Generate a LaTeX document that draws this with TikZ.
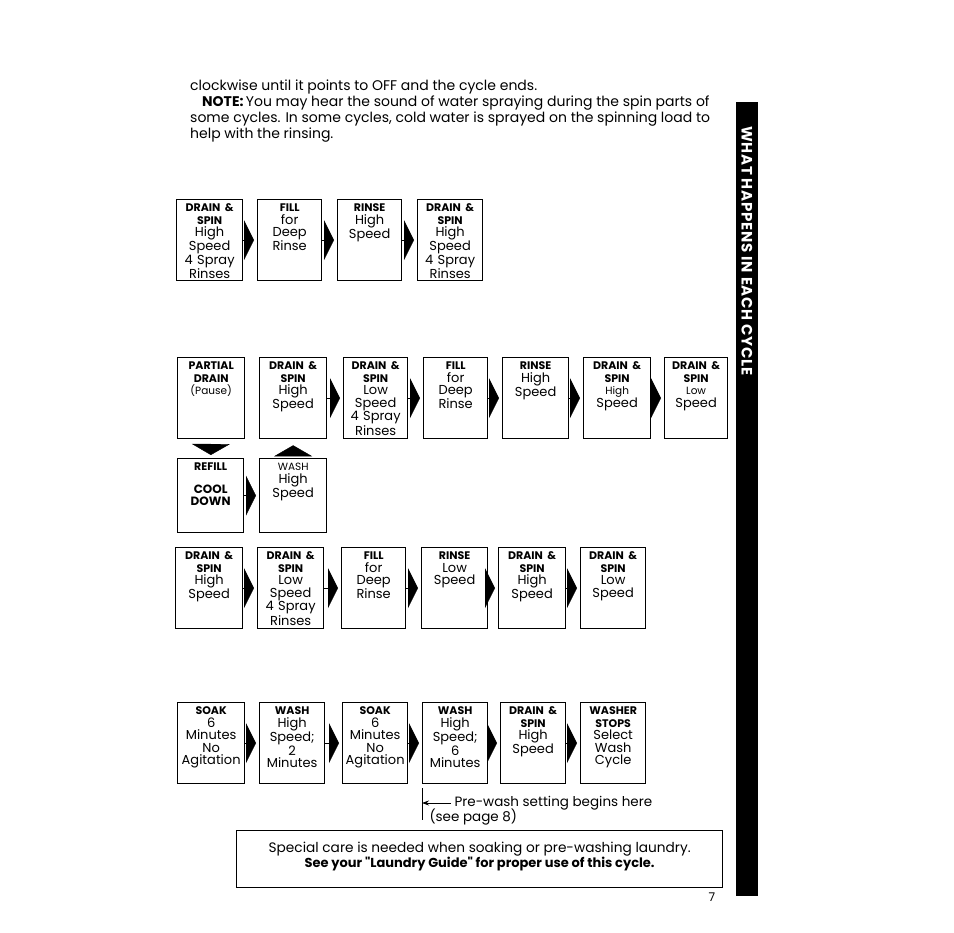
\documentclass[tikz,border=0pt]{standalone}
\usepackage{fontspec}
\setmainfont{Poppins}
\usetikzlibrary{arrows.meta}

\newcommand\hd[1]{{\fontsize{11}{12.5}\selectfont\bfseries #1}}
\newcommand\sm[1]{{\fontsize{10.5}{12.5}\selectfont #1}}

\tikzset{
	stepbox/.style={draw, line width=1.3pt, inner sep=0pt, anchor=north west, align=center, text width=#1pt, text height=12pt, text depth=69pt, font=\fontsize{13}{12.5}\selectfont},
	flow/.style={-{Triangle[length=10pt,width=40pt]}, shorten >=3pt, line width=0.4pt},
	vflow/.style={-{Triangle[length=11pt,width=38pt]}, line width=0.4pt}
}

\begin{document}
\begin{tikzpicture}[x=1pt, y=-1pt, every path/.style={>=latex}]
			\useasboundingbox (0,0) rectangle (954,933);

			\node[anchor=north west, align=left, inner sep=0pt, font=\fontsize{14}{16}\selectfont] (note) at (190,80) {clockwise until it points to OFF and the cycle ends.\\\hspace{12pt}\textbf{NOTE:}\,You may hear the sound of water spraying during the spin parts of\\some cycles. In some cycles, cold water is sprayed on the spinning load to\\help with the rinsing.};

			\fill (736,102) rectangle (758,896);
			\node[rotate=-90, text=white, font=\fontsize{15}{15}\selectfont\bfseries\addfontfeature{LetterSpace=5}] (title) at (747,251) {WHAT HAPPENS IN EACH CYCLE};

			\node[stepbox=66] (drainA) at (176,199) {\hd{DRAIN \&}\\\hd{SPIN}\\High\\Speed\\4 Spray\\Rinses};
			\node[stepbox=64] (fillA) at (257,199) {\hd{FILL}\\for\\Deep\\Rinse};
			\node[stepbox=64] (rinseA) at (337,199) {\hd{RINSE}\\High\\Speed};
			\node[stepbox=65] (drainB) at (417,199) {\hd{DRAIN \&}\\\hd{SPIN}\\High\\Speed\\4 Spray\\Rinses};

			\node[stepbox=67] (partial) at (177,357) {\hd{PARTIAL}\\\hd{DRAIN}\\\sm{(Pause)}};
			\node[stepbox=67] (drainC) at (259,357) {\hd{DRAIN \&}\\\hd{SPIN}\\High\\Speed};
			\node[stepbox=64] (drainD) at (343,357) {\hd{DRAIN \&}\\\hd{SPIN}\\Low\\Speed\\4 Spray\\Rinses};
			\node[stepbox=64] (fillB) at (423,357) {\hd{FILL}\\for\\Deep\\Rinse};
			\node[stepbox=66] (rinseB) at (502,357) {\hd{RINSE}\\High\\Speed};
			\node[stepbox=67] (drainE) at (583,357) {\hd{DRAIN \&}\\\hd{SPIN}\\\sm{High}\\Speed};
			\node[stepbox=63] (drainF) at (664,357) {\hd{DRAIN \&}\\\hd{SPIN}\\\sm{Low}\\Speed};

			\node[stepbox=66, text depth=62pt] (refill) at (177,458) {\hd{REFILL}\\[10pt]{\fontsize{12}{12.5}\selectfont\bfseries COOL}\\{\fontsize{12}{12.5}\selectfont\bfseries DOWN}};
			\node[stepbox=67, text depth=62pt] (washA) at (259,458) {\sm{WASH}\\High\\Speed};

			\node[stepbox=67] (drainG) at (175,547) {\hd{DRAIN \&}\\\hd{SPIN}\\High\\Speed};
			\node[stepbox=66] (drainH) at (257,547) {\hd{DRAIN \&}\\\hd{SPIN}\\Low\\Speed\\4 Spray\\Rinses};
			\node[stepbox=64] (fillC) at (341,547) {\hd{FILL}\\for\\Deep\\Rinse};
			\node[stepbox=66] (rinseC) at (421,547) {\hd{RINSE}\\Low\\Speed};
			\node[stepbox=67] (drainI) at (498,547) {\hd{DRAIN \&}\\\hd{SPIN}\\High\\Speed};
			\node[stepbox=65] (drainJ) at (580,547) {\hd{DRAIN \&}\\\hd{SPIN}\\Low\\Speed};

			\node[stepbox=67] (soakA) at (177,702) {\hd{SOAK}\\6\\Minutes\\No\\Agitation};
			\node[stepbox=65] (washB) at (259,702) {\hd{WASH}\\High\\Speed;\\2\\Minutes};
			\node[stepbox=65] (soakB) at (342,702) {\hd{SOAK}\\6\\Minutes\\No\\Agitation};
			\node[stepbox=65] (washC) at (422,702) {\hd{WASH}\\High\\Speed;\\6\\Minutes};
			\node[stepbox=65] (drainK) at (500,702) {\hd{DRAIN \&}\\\hd{SPIN}\\High\\Speed};
			\node[stepbox=65] (stops) at (580,702) {\hd{WASHER}\\\hd{STOPS}\\Select\\Wash\\Cycle};

			\draw[flow] (drainA) edge (fillA);
			\draw[flow] (fillA) edge (rinseA);
			\draw[flow] (rinseA) edge (drainB);

			\draw[flow] (drainC) edge (drainD);
			\draw[flow] (drainD) edge (fillB);
			\draw[flow] (fillB) edge (rinseB);
			\draw[flow] (rinseB) edge (drainE);
			\draw[flow] (drainE) edge (drainF);

			\draw[vflow, shorten <=6pt, shorten >=3pt] (partial) edge (refill);
			\draw[flow] (refill) edge (washA);
			\draw[vflow, shorten <=4pt, shorten >=6pt] (washA) edge (drainC);

			\draw[flow] (drainG) edge (drainH);
			\draw[flow] (drainH) edge (fillC);
			\draw[flow] (fillC) edge (rinseC);
			\draw[flow] (rinseC) edge (drainI);
			\draw[flow] (drainI) edge (drainJ);

			\draw[flow] (soakA) edge (washB);
			\draw[flow] (washB) edge (soakB);
			\draw[flow] (soakB) edge (washC);
			\draw[flow] (washC) edge (drainK);
			\draw[flow] (drainK) edge (stops);

			\coordinate (pwtop) at (422,788);
			\coordinate (pwbot) at (422,820);
			\draw[line width=0.8pt] (pwtop) -- (pwbot);
			\node[anchor=west, font=\fontsize{13.5}{15}\selectfont] (pwnote) at (451,803) {Pre-wash setting begins here};
			\node[anchor=west, font=\fontsize{13.5}{15}\selectfont] (pwpage) at (426,817) {(see page 8)};
			\draw[-{Stealth[length=7pt,width=5pt]}, line width=0.8pt] (pwnote.west) -- (pwnote.west -| pwtop);

			\node[draw, line width=1.3pt, anchor=north west, minimum width=486pt, minimum height=57pt] (care) at (236,830) {};
			\node[align=center, font=\fontsize{13.7}{15}\selectfont] (caretext) at ([yshift=3pt]care.center) {Special care is needed when soaking or pre-washing laundry.\\{\fontsize{13}{15}\selectfont\bfseries See your \textquotedbl Laundry Guide\textquotedbl\ for proper use of this cycle.}};

			\node[font=\fontsize{12}{13}\selectfont] (page) at (712,897) {7};
		\end{tikzpicture}
\end{document}
